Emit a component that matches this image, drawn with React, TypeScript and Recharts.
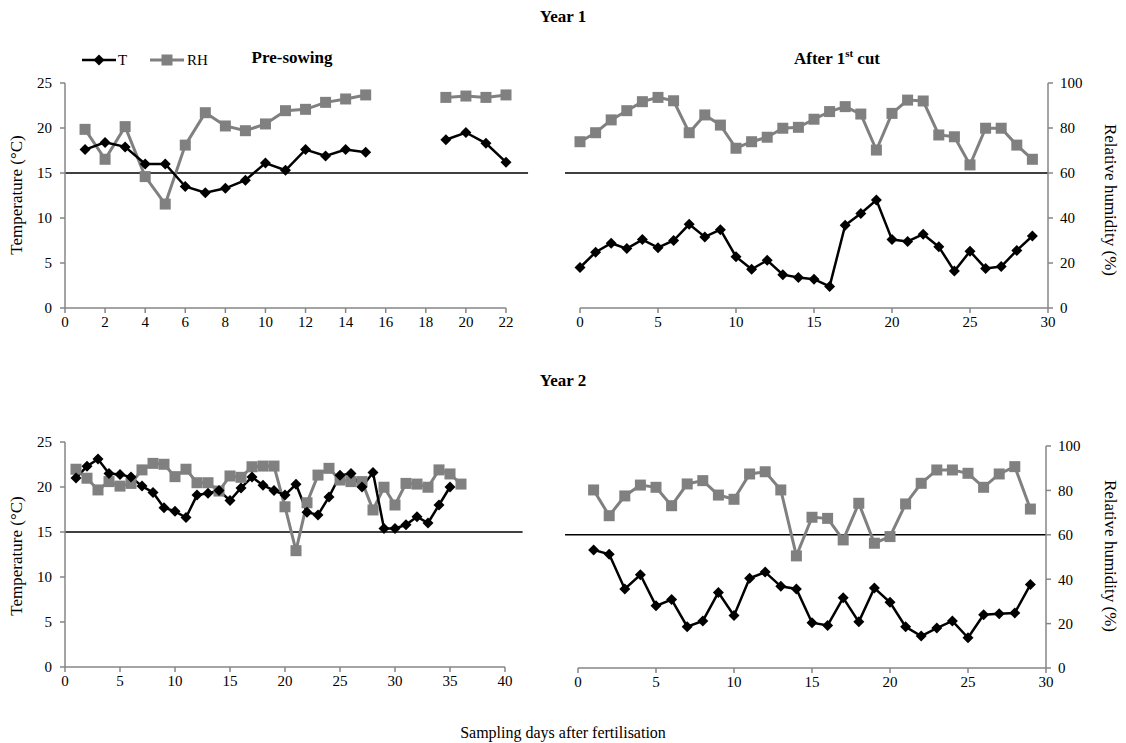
import React from 'react';
import { LineChart, Line, XAxis, YAxis, ReferenceLine } from 'recharts';

// Year 1, pre-sowing (no readings on days 16-18)
const ps1Days = [1, 2, 3, 4, 5, 6, 7, 8, 9, 10, 11, 12, 13, 14, 15, 16, 17, 18, 19, 20, 21, 22];
const ps1T = [17.6, 18.4, 17.9, 16.0, 16.0, 13.5, 12.8, 13.3, 14.2, 16.1, 15.3, 17.6, 16.9, 17.6, 17.3, null, null, null, 18.7, 19.5, 18.3, 16.2];
const ps1RH = [79.4, 66.1, 80.6, 58.4, 46.2, 72.4, 86.8, 80.9, 78.8, 81.8, 87.7, 88.3, 91.4, 92.9, 94.7, null, null, null, 93.6, 94.2, 93.6, 94.7];

// Year 1, after 1st cut
const ac1Days = [0, 1, 2, 3, 4, 5, 6, 7, 8, 9, 10, 11, 12, 13, 14, 15, 16, 17, 18, 19, 20, 21, 22, 23, 24, 25, 26, 27, 28, 29];
const ac1T = [4.5, 6.2, 7.2, 6.6, 7.6, 6.7, 7.5, 9.3, 7.9, 8.7, 5.7, 4.3, 5.3, 3.7, 3.4, 3.2, 2.4, 9.2, 10.5, 12.0, 7.6, 7.4, 8.2, 6.8, 4.1, 6.3, 4.4, 4.6, 6.4, 8.0];
const ac1RH = [73.9, 77.9, 83.6, 87.7, 91.7, 93.6, 92.1, 77.9, 85.8, 81.3, 71.0, 73.9, 75.9, 79.9, 80.3, 83.9, 87.3, 89.5, 86.2, 70.2, 86.5, 92.4, 92.0, 76.9, 76.1, 63.6, 79.9, 79.9, 72.4, 66.1];

// Year 2, pre-sowing
const ps2Days = [1, 2, 3, 4, 5, 6, 7, 8, 9, 10, 11, 12, 13, 14, 15, 16, 17, 18, 19, 20, 21, 22, 23, 24, 25, 26, 27, 28, 29, 30, 31, 32, 33, 34, 35, 36];
const ps2T = [21.0, 22.3, 23.1, 21.5, 21.4, 21.1, 20.1, 19.4, 17.7, 17.3, 16.6, 19.1, 19.3, 19.6, 18.5, 19.9, 21.1, 20.2, 19.6, 19.1, 20.3, 17.2, 16.9, 18.9, 21.3, 21.5, 20.0, 21.6, 15.4, 15.4, 15.8, 16.7, 16.0, 18.0, 20.0, null];
const ps2RH = [87.9, 83.9, 78.7, 82.4, 80.4, 81.6, 87.6, 90.5, 90.1, 84.6, 87.9, 81.9, 81.9, 78.2, 84.9, 84.3, 89.0, 89.3, 89.3, 71.2, 51.7, 73.0, 85.3, 88.3, 83.1, 82.4, 82.4, 69.8, 79.9, 72.0, 81.6, 81.3, 79.9, 87.6, 85.8, 81.3];

// Year 2, after 1st cut
const ac2Days = [1, 2, 3, 4, 5, 6, 7, 8, 9, 10, 11, 12, 13, 14, 15, 16, 17, 18, 19, 20, 21, 22, 23, 24, 25, 26, 27, 28, 29];
const ac2T = [13.3, 12.8, 8.9, 10.5, 7.0, 7.7, 4.65, 5.3, 8.5, 5.9, 10.1, 10.8, 9.2, 8.9, 5.1, 4.8, 7.9, 5.2, 9.0, 7.4, 4.65, 3.6, 4.5, 5.3, 3.4, 6.0, 6.1, 6.2, 9.4];
const ac2RH = [80.2, 68.6, 77.5, 82.4, 81.4, 73.1, 82.9, 84.4, 77.9, 76.0, 87.4, 88.4, 80.2, 50.5, 67.9, 67.4, 57.7, 74.2, 56.2, 59.2, 73.9, 83.2, 89.2, 89.2, 87.7, 81.4, 87.4, 90.7, 71.6];

const tTicks = [0, 5, 10, 15, 20, 25];
const rhTicks = [0, 20, 40, 60, 80, 100];
const ticks22 = [0, 2, 4, 6, 8, 10, 12, 14, 16, 18, 20, 22];
const ticks30 = [0, 5, 10, 15, 20, 25, 30];
const ticks40 = [0, 5, 10, 15, 20, 25, 30, 35, 40];

const T_LIMIT = 15; // same height as 60 % RH

const FONT = '"Liberation Serif", "Times New Roman", serif';
const AXIS = '#868686';
const GREY = '#808080';

const rows = (days: number[], t: (number | null)[], rh: (number | null)[]) =>
  days.map((d, i) => ({ day: d, t: t[i], rh: rh[i] }));

const Diamond = (props: any) => {
  const { cx, cy, index } = props;
  if (cx == null || cy == null) return <g key={'d' + index} />;
  const s = 5.5;
  return (
    <polygon
      key={'d' + index}
      points={`${cx},${cy - s} ${cx + s},${cy} ${cx},${cy + s} ${cx - s},${cy}`}
      fill="#000"
    />
  );
};

const Square = (props: any) => {
  const { cx, cy, index } = props;
  if (cx == null || cy == null) return <g key={'s' + index} />;
  const s = 5.5;
  return <rect key={'s' + index} x={cx - s} y={cy - s} width={2 * s} height={2 * s} fill={GREY} />;
};

const tickStyle = { fill: '#000', fontSize: 15 };

type PanelProps = {
  data: any[];
  xTicks: number[];
  left: number;
  top: number;
  width: number;
  height: number;
  margin: { top: number; right: number; bottom: number; left: number };
  showT: boolean;
  lineFrom: number;
  lineTo: number;
};

const Panel = ({ data, xTicks, left, top, width, height, margin, showT, lineFrom, lineTo }: PanelProps) => (
  <div style={{ position: 'absolute', left, top }}>
    <LineChart width={width} height={height} data={data} margin={margin}>
      <XAxis
        dataKey="day"
        type="number"
        domain={[xTicks[0], xTicks[xTicks.length - 1]]}
        ticks={xTicks}
        interval={0}
        tick={tickStyle}
        axisLine={{ stroke: AXIS, strokeWidth: 1.5 }}
        tickLine={{ stroke: AXIS, strokeWidth: 1.5 }}
        tickSize={5}
        tickMargin={3}
        height={30}
      />
      <YAxis
        yAxisId="t"
        domain={[0, 25]}
        ticks={tTicks}
        interval={0}
        hide={!showT}
        width={65}
        tick={tickStyle}
        axisLine={{ stroke: AXIS, strokeWidth: 1.5 }}
        tickLine={{ stroke: AXIS, strokeWidth: 1.5 }}
        tickSize={5}
        tickMargin={8}
      />
      <YAxis
        yAxisId="rh"
        orientation="right"
        domain={[0, 100]}
        ticks={rhTicks}
        interval={0}
        hide={showT}
        width={60}
        tick={{ ...tickStyle, textAnchor: 'start' }}
        axisLine={{ stroke: AXIS, strokeWidth: 1.5 }}
        tickLine={{ stroke: AXIS, strokeWidth: 1.5 }}
        tickSize={5}
        tickMargin={7}
      />
      <ReferenceLine
        yAxisId="t"
        segment={[{ x: lineFrom, y: T_LIMIT }, { x: lineTo, y: T_LIMIT }]}
        stroke="#000"
        strokeWidth={1.6}
        ifOverflow="visible"
      />
      <Line
        yAxisId="rh"
        type="linear"
        dataKey="rh"
        stroke={GREY}
        strokeWidth={3}
        dot={Square}
        activeDot={false}
        connectNulls={false}
        isAnimationActive={false}
      />
      <Line
        yAxisId="t"
        type="linear"
        dataKey="t"
        stroke="#000"
        strokeWidth={2.5}
        dot={Diamond}
        activeDot={false}
        connectNulls={false}
        isAnimationActive={false}
      />
    </LineChart>
  </div>
);

const Label = ({ x, y, children, bold, rotate, size }: any) => (
  <div
    style={{
      position: 'absolute',
      left: x,
      top: y,
      transform: `translate(-50%, -50%)${rotate ? ` rotate(${rotate}deg)` : ''}`,
      whiteSpace: 'nowrap',
      fontFamily: FONT,
      fontSize: size || 16,
      fontWeight: bold ? 'bold' : 'normal',
      color: '#000',
    }}
  >
    {children}
  </div>
);

export default function App() {
  return (
    <div
      style={{
        position: 'absolute',
        left: 0,
        top: 0,
        width: 1126,
        height: 743,
        background: '#fff',
        overflow: 'hidden',
        fontFamily: FONT,
      }}
    >
      <style>{`.recharts-wrapper, .recharts-surface, .recharts-text { font-family: ${FONT} !important; }`}</style>
      <Panel
        data={rows(ps1Days, ps1T, ps1RH)}
        xTicks={ticks22}
        left={0}
        top={70}
        width={540}
        height={270}
        margin={{ top: 13, right: 34, bottom: 2, left: 0 }}
        showT
        lineFrom={0}
        lineTo={23.1}
      />
      <Panel
        data={rows(ac1Days, ac1T, ac1RH)}
        xTicks={ticks30}
        left={560}
        top={70}
        width={566}
        height={270}
        margin={{ top: 13, right: 18, bottom: 2, left: 20 }}
        showT={false}
        lineFrom={-0.96}
        lineTo={30}
      />
      <Panel
        data={rows(ps2Days, ps2T, ps2RH)}
        xTicks={ticks40}
        left={0}
        top={430}
        width={540}
        height={270}
        margin={{ top: 12, right: 35, bottom: 3, left: 0 }}
        showT
        lineFrom={0}
        lineTo={41.6}
      />
      <Panel
        data={rows(ac2Days, ac2T, ac2RH)}
        xTicks={ticks30}
        left={560}
        top={430}
        width={566}
        height={270}
        margin={{ top: 16, right: 20, bottom: 2, left: 18 }}
        showT={false}
        lineFrom={-0.83}
        lineTo={30}
      />

      {/* legend */}
      <svg style={{ position: 'absolute', left: 78, top: 50 }} width={130} height={20}>
        <line x1={4} y1={10} x2={38} y2={10} stroke="#000" strokeWidth={2.5} />
        <polygon points="21,4.5 26.5,10 21,15.5 15.5,10" fill="#000" />
        <text x={40} y={15} fontFamily={FONT} fontSize={15}>T</text>
        <line x1={72} y1={10} x2={106} y2={10} stroke={GREY} strokeWidth={3} />
        <rect x={83.5} y={4.5} width={11} height={11} fill={GREY} />
        <text x={109} y={15} fontFamily={FONT} fontSize={15}>RH</text>
      </svg>

      <Label x={563} y={17} bold size={17}>Year 1</Label>
      <Label x={292} y={58} bold size={17}>Pre-sowing</Label>
      <Label x={837} y={58} bold size={17}>
        After 1<sup style={{ fontSize: 11 }}>st</sup> cut
      </Label>
      <Label x={563} y={381} bold size={17}>Year 2</Label>

      <Label x={17} y={195} rotate={-90} size={17}>Temperature (°C)</Label>
      <Label x={17} y={556} rotate={-90} size={17}>Temperature (°C)</Label>
      <Label x={1110} y={200} rotate={90} size={17}>Relative humidity (%)</Label>
      <Label x={1110} y={556} rotate={90} size={17}>Relative humidity (%)</Label>

      <Label x={563} y={733} size={16}>Sampling days after fertilisation</Label>
    </div>
  );
}
